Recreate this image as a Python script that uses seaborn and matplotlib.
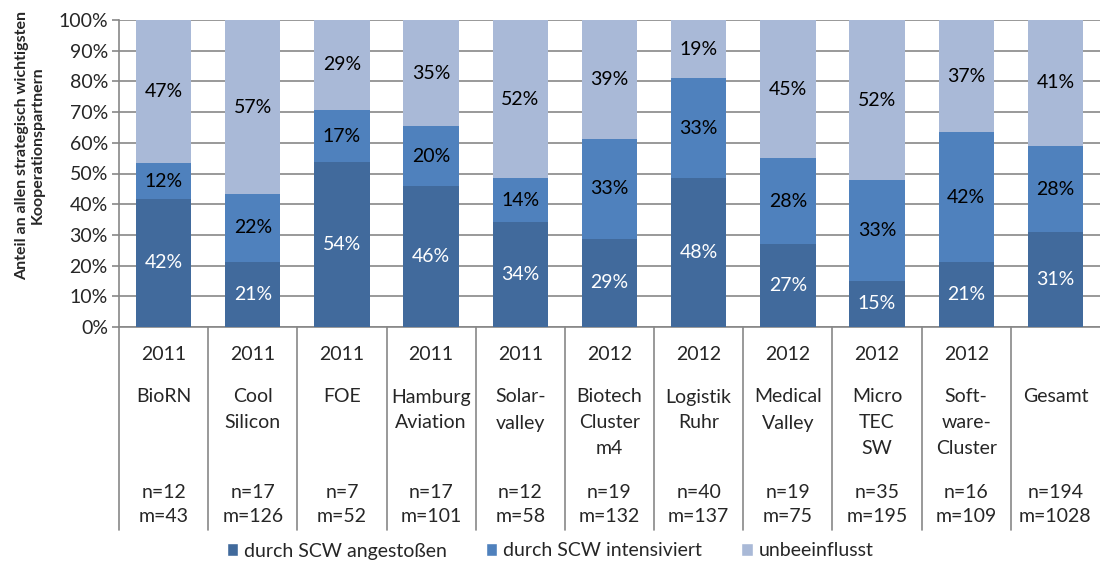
import matplotlib
matplotlib.use("Agg")
import matplotlib.pyplot as plt
import matplotlib.transforms as mtransforms
from matplotlib.lines import Line2D
from matplotlib.patches import Patch
import numpy as np
import pandas as pd
import seaborn as sns

# chart data
clusters = ["BioRN", "Cool\nSilicon", "FOE", "Hamburg\nAviation", "Solar-\nvalley",
            "Biotech\nCluster\nm4", "Logistik\nRuhr", "Medical\nValley", "Micro\nTEC\nSW",
            "Soft-\nware-\nCluster", "Gesamt"]
years = ["2011", "2011", "2011", "2011", "2011", "2012", "2012", "2012", "2012", "2012", ""]
n_vals = [12, 17, 7, 17, 12, 19, 40, 19, 35, 16, 194]
m_vals = [43, 126, 52, 101, 58, 132, 137, 75, 195, 109, 1028]
angestossen = [41.7, 21.2, 53.6, 45.8, 34.3, 28.8, 48.4, 27.0, 15.0, 21.2, 30.8]
intensiviert = [11.7, 22.1, 17.2, 19.6, 14.1, 32.6, 32.7, 28.0, 32.8, 42.2, 28.2]
unbeeinflusst = [46.6, 56.7, 29.2, 34.6, 51.6, 38.6, 18.9, 45.0, 52.2, 36.6, 41.0]
series_names = ["durch SCW angestoßen", "durch SCW intensiviert", "unbeeinflusst"]
colors = ["#416A9C", "#4F81BD", "#A9B9D7"]

sns.set_style("white")
plt.rcParams["font.family"] = ["Lato", "DejaVu Sans"]
fs = 14

df = pd.DataFrame({"cluster": clusters, "a": angestossen, "b": intensiviert, "c": unbeeinflusst})

fig = plt.figure(figsize=(11, 5.63), dpi=100)
ax = fig.add_axes([119 / 1100, 1 - 327 / 563, 981 / 1100, 307 / 563])

bottom = np.zeros(len(df))
for col, color, name in zip(["a", "b", "c"], colors, series_names):
    sns.barplot(data=df, x="cluster", y=col, color=color, bottom=bottom,
                width=0.62, errorbar=None, ax=ax, zorder=3, saturation=1, linewidth=0)
    txt_color = "white" if col == "a" else "black"
    for i, v in enumerate(df[col]):
        ax.text(i, bottom[i] + v / 2, f"{v:.0f}%", ha="center", va="center",
                fontsize=fs, color=txt_color, zorder=4)
    bottom = bottom + df[col].values

ax.set_xlim(-0.5, len(df) - 0.5)
ax.set_ylim(0, 100)
ax.set_yticks(range(0, 101, 10))
ax.set_yticklabels([f"{t}%" for t in range(0, 101, 10)], fontsize=fs)
ax.set_xticks([])
ax.set_xlabel("")
ax.set_ylabel("")
ax.yaxis.grid(True, color="#878787", linewidth=1.2, zorder=0)
ax.tick_params(axis="y", length=5, width=1.2, color="#878787", direction="out", left=True, pad=3)
for s in ["top", "right"]:
    ax.spines[s].set_visible(False)
for s in ["left", "bottom"]:
    ax.spines[s].set_color("#878787")
    ax.spines[s].set_linewidth(1.2)

# category table below the axis
trans = mtransforms.blended_transform_factory(ax.transData, ax.transAxes)
def ypos(px):
    return (327 - px) / 307

for b in np.arange(-0.5, len(df) - 1, 1.0):
    ax.add_line(Line2D([b, b], [0, ypos(530)], transform=trans, color="#878787",
                       linewidth=1.2, clip_on=False))

for i in range(len(df)):
    ax.text(i, ypos(355), years[i], transform=trans, ha="center", va="center", fontsize=fs)
    for j, line in enumerate(clusters[i].split("\n")):
        ax.text(i, ypos(397 + 26 * j), line, transform=trans, ha="center", va="center", fontsize=fs)
    ax.text(i, ypos(492), f"n={n_vals[i]}", transform=trans, ha="center", va="center", fontsize=fs)
    ax.text(i, ypos(517), f"m={m_vals[i]}", transform=trans, ha="center", va="center", fontsize=fs)

fig.text(30 / 1100, 1 - 145 / 563, "Anteil an allen strategisch wichtigsten\nKooperationspartnern",
         rotation=90, ha="center", va="center", fontsize=11.5, fontweight="bold", linespacing=1.1)

handles = [Patch(facecolor=c, label=n) for c, n in zip(colors, series_names)]
fig.legend(handles=handles, loc="center", bbox_to_anchor=(0.5, 1 - 551 / 563), ncol=3,
           frameon=False, fontsize=fs, handlelength=0.6, handleheight=0.6,
           handletextpad=0.3, columnspacing=2.0)

fig.savefig("out.png", dpi=100)
